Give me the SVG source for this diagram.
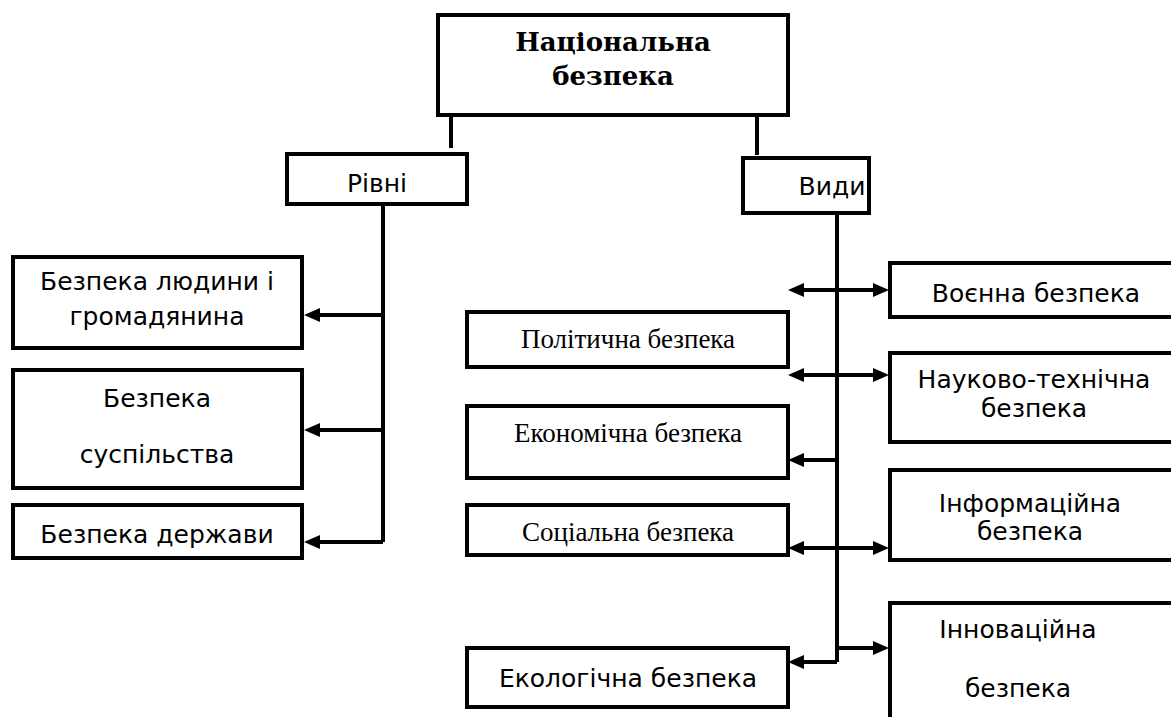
<svg xmlns="http://www.w3.org/2000/svg" width="1171" height="717" viewBox="0 0 1171 717">
<style>
.box{fill:#fff;stroke:#000;stroke-width:4}
.ln{fill:none;stroke:#000;stroke-width:4}
.b{font-family:"DejaVu Serif","Liberation Serif",serif;font-weight:bold;font-size:26px;text-anchor:middle}
.s{font-family:"DejaVu Sans","Liberation Sans",sans-serif;font-size:25px;text-anchor:middle}
.r{font-family:"Liberation Serif","Times New Roman",serif;font-size:27px;text-anchor:middle}
</style>
<defs>
<marker id="ah" viewBox="0 0 16 14" refX="6" refY="7" markerWidth="16" markerHeight="14" orient="auto-start-reverse" markerUnits="userSpaceOnUse">
<path d="M0,0 L16,7 L0,14 z" fill="#000"/>
</marker>
</defs>
<g id="connectors">
<path class="ln" d="M451,117 V148"/>
<path class="ln" d="M757,117 V155"/>
<path class="ln" d="M383,204 V542"/>
<path class="ln" d="M383,315 H314" marker-end="url(#ah)"/>
<path class="ln" d="M383,430 H314" marker-end="url(#ah)"/>
<path class="ln" d="M383,542 H314" marker-end="url(#ah)"/>
<path class="ln" d="M837,213 V662"/>
<path class="ln" d="M798,290 H879" marker-start="url(#ah)" marker-end="url(#ah)"/>
<path class="ln" d="M798,375 H879" marker-start="url(#ah)" marker-end="url(#ah)"/>
<path class="ln" d="M837,460 H798" marker-end="url(#ah)"/>
<path class="ln" d="M798,548 H879" marker-start="url(#ah)" marker-end="url(#ah)"/>
<path class="ln" d="M837,648 H879" marker-end="url(#ah)"/>
<path class="ln" d="M837,662 H798" marker-end="url(#ah)"/>
</g>
<g id="national">
<rect class="box" x="438" y="15" width="350" height="100"/>
<text class="b" x="613" y="51">Національна</text>
<text class="b" x="613" y="85">безпека</text>
</g>
<g id="rivni">
<rect class="box" x="287" y="154" width="180" height="50"/>
<text class="s" x="377" y="192">Рівні</text>
</g>
<g id="vydy">
<rect class="box" x="743" y="158" width="126" height="55"/>
<text class="s" x="832" y="195">Види</text>
</g>
<g id="lyudyna">
<rect class="box" x="13" y="257" width="289" height="91"/>
<text class="s" x="157" y="290">Безпека людини і</text>
<text class="s" x="157" y="325">громадянина</text>
</g>
<g id="suspilstvo">
<rect class="box" x="13" y="370" width="289" height="118"/>
<text class="s" x="157" y="407">Безпека</text>
<text class="s" x="157" y="463">суспільства</text>
</g>
<g id="derzhava">
<rect class="box" x="13" y="505" width="289" height="53"/>
<text class="s" x="157" y="543">Безпека держави</text>
</g>
<g id="politychna">
<rect class="box" x="467" y="312" width="321" height="55"/>
<text class="r" x="628" y="348">Політична безпека</text>
</g>
<g id="ekonomichna">
<rect class="box" x="467" y="406" width="321" height="72"/>
<text class="r" x="628" y="442">Економічна безпека</text>
</g>
<g id="sotsialna">
<rect class="box" x="467" y="505" width="321" height="50"/>
<text class="r" x="628" y="541">Соціальна безпека</text>
</g>
<g id="ekologichna">
<rect class="box" x="467" y="648" width="321" height="59"/>
<text class="s" x="628" y="687">Екологічна безпека</text>
</g>
<g id="voyenna">
<rect class="box" x="890" y="263" width="300" height="54"/>
<text class="s" x="1036" y="302">Воєнна безпека</text>
</g>
<g id="naukovo">
<rect class="box" x="890" y="353" width="300" height="89"/>
<text class="s" x="1034" y="388">Науково-технічна</text>
<text class="s" x="1034" y="417">безпека</text>
</g>
<g id="informatsiyna">
<rect class="box" x="890" y="470" width="300" height="90"/>
<text class="s" x="1030" y="512">Інформаційна</text>
<text class="s" x="1030" y="540">безпека</text>
</g>
<g id="innovatsiyna">
<rect class="box" x="890" y="603" width="300" height="130"/>
<text class="s" x="1018" y="638">Інноваційна</text>
<text class="s" x="1018" y="697">безпека</text>
</g>
</svg>
